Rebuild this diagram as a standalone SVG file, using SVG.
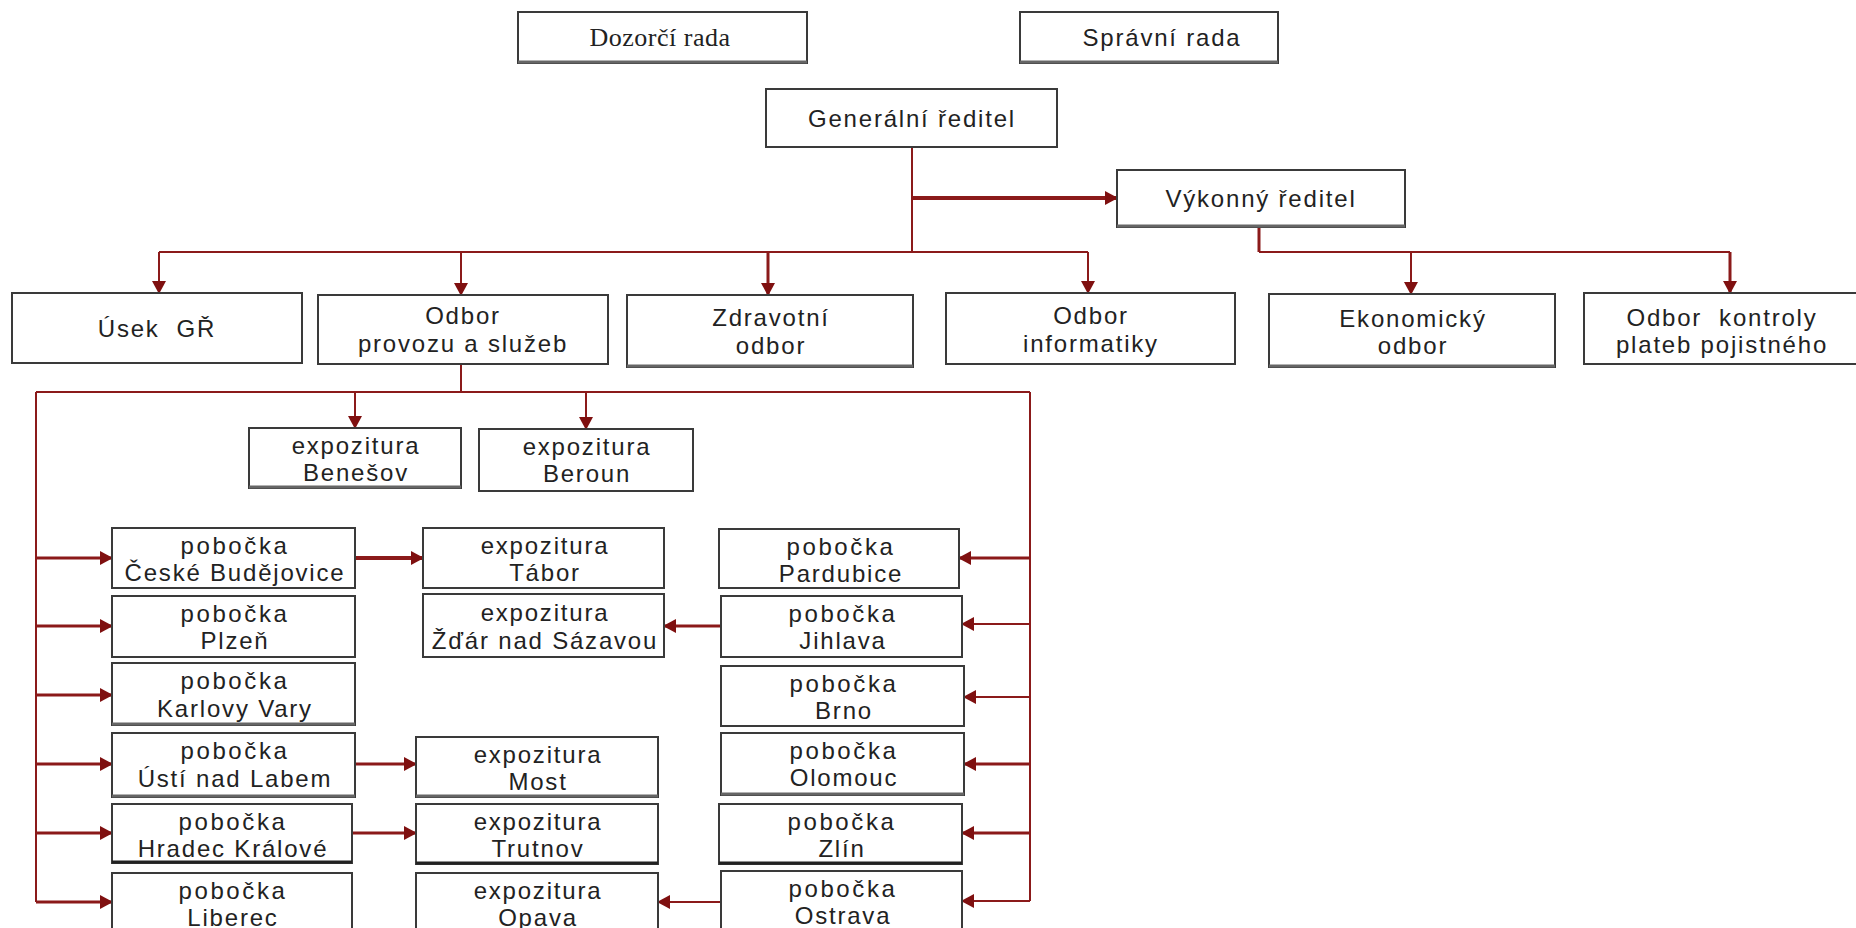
<svg xmlns="http://www.w3.org/2000/svg" width="1856" height="928" viewBox="0 0 1856 928">
<defs>
<marker id="ar" markerUnits="userSpaceOnUse" markerWidth="13" markerHeight="14" viewBox="0 0 13 14" refX="12" refY="7" orient="auto">
<path d="M0,0 L13,7 L0,14 z" fill="#7f1010"/>
</marker>
</defs>
<style>
rect.b{fill:#fff;stroke:#3a3a3a;stroke-width:2}
line.sh{stroke:#666;stroke-width:3}
text{font-family:"Liberation Sans",Arial,sans-serif;font-size:24px;fill:#222;text-anchor:middle;letter-spacing:1.8px}
text.p{letter-spacing:2.6px}
text.w{white-space:pre}
text.s{font-family:"Liberation Serif","Times New Roman",serif;font-size:26px;letter-spacing:0.5px}
#conn path{fill:none;stroke:#8b1a1a;stroke-width:2}
#conn path.a{marker-end:url(#ar)}
#conn path.t{stroke-width:4}
#conn path.m{stroke-width:3}
</style>
<rect width="1856" height="928" fill="#fff"/>
<g id="conn">
<path d="M912,147 V252"/>
<path class="a t" d="M912,198 H1117"/>
<path d="M159,252 H1088"/>
<path class="a" d="M159,252 V293"/>
<path class="a" d="M461,252 V295"/>
<path class="a m" d="M768,252 V295"/>
<path class="a" d="M1088,252 V293"/>
<path class="m" d="M1259,227 V252"/>
<path d="M1259,252 H1730"/>
<path class="a" d="M1411,252 V294"/>
<path class="a m" d="M1730,252 V293"/>
<path d="M461,364 V392"/>
<path d="M36,392 H1030"/>
<path class="a" d="M355,392 V428"/>
<path class="a" d="M586,392 V429"/>
<path d="M36,392 V902"/>
<path class="a m" d="M36,558 H112"/>
<path class="a m" d="M36,626 H112"/>
<path class="a m" d="M36,695 H112"/>
<path class="a m" d="M36,764 H112"/>
<path class="a m" d="M36,833 H112"/>
<path class="a m" d="M36,902 H112"/>
<path d="M1030,392 V901"/>
<path class="a m" d="M1030,558 H959"/>
<path class="a" d="M1030,624 H962"/>
<path class="a" d="M1030,697 H964"/>
<path class="a m" d="M1030,764 H964"/>
<path class="a m" d="M1030,833 H962"/>
<path class="a" d="M1030,901 H962"/>
<path class="a t" d="M355,558 H423"/>
<path class="a m" d="M721,626 H664"/>
<path class="a m" d="M355,764 H416"/>
<path class="a m" d="M352,833 H416"/>
<path class="a" d="M721,902 H658"/>
</g>
<g id="dozorci"><rect class="b" x="518" y="12" width="289" height="51"/><line class="sh" x1="518" y1="62" x2="807" y2="62"/><text class="s" x="660" y="46">Dozorčí rada</text></g>
<g id="spravni"><rect class="b" x="1020" y="12" width="258" height="51"/><line class="sh" x1="1020" y1="62" x2="1278" y2="62"/><text x="1162" y="46">Správní rada</text></g>
<g id="gen"><rect class="b" x="766" y="89" width="291" height="58"/><text x="912" y="127">Generální ředitel</text></g>
<g id="vyk"><rect class="b" x="1117" y="170" width="288" height="57"/><line class="sh" x1="1117" y1="226" x2="1405" y2="226"/><text x="1261" y="207">Výkonný ředitel</text></g>
<g id="usek"><rect class="b" x="12" y="293" width="290" height="70"/><text class="w" x="157" y="337" xml:space="preserve">Úsek  GŘ</text></g>
<g id="provoz"><rect class="b" x="318" y="295" width="290" height="69"/><text x="463" y="324">Odbor</text><text x="463" y="352">provozu a služeb</text></g>
<g id="zdrav"><rect class="b" x="627" y="295" width="286" height="72"/><line class="sh" x1="627" y1="366" x2="913" y2="366"/><text x="771" y="326">Zdravotní</text><text x="771" y="354">odbor</text></g>
<g id="inform"><rect class="b" x="946" y="293" width="289" height="71"/><text x="1091" y="324">Odbor</text><text x="1091" y="352">informatiky</text></g>
<g id="ekon"><rect class="b" x="1269" y="294" width="286" height="73"/><line class="sh" x1="1269" y1="366" x2="1555" y2="366"/><text x="1413" y="327">Ekonomický</text><text x="1413" y="354">odbor</text></g>
<g id="kontrola"><rect class="b" x="1584" y="293" width="274" height="71"/><text class="w" x="1722" y="326" xml:space="preserve">Odbor  kontroly</text><text x="1722" y="353">plateb pojistného</text></g>
<g id="benesov"><rect class="b" x="249" y="428" width="212" height="60"/><line class="sh" x1="249" y1="487" x2="461" y2="487"/><text x="356" y="454">expozitura</text><text x="356" y="481">Benešov</text></g>
<g id="beroun"><rect class="b" x="479" y="429" width="214" height="62"/><text x="587" y="455">expozitura</text><text x="587" y="482">Beroun</text></g>
<g id="cb"><rect class="b" x="112" y="528" width="243" height="60"/><text class="p" x="235" y="554">pobočka</text><text x="235" y="581">České Budějovice</text></g>
<g id="plzen"><rect class="b" x="112" y="596" width="243" height="61"/><text class="p" x="235" y="622">pobočka</text><text x="235" y="649">Plzeň</text></g>
<g id="kv"><rect class="b" x="112" y="663" width="243" height="62"/><line class="sh" x1="112" y1="724" x2="355" y2="724"/><text class="p" x="235" y="689">pobočka</text><text x="235" y="717">Karlovy Vary</text></g>
<g id="usti"><rect class="b" x="112" y="733" width="243" height="64"/><line class="sh" x1="112" y1="796" x2="355" y2="796"/><text class="p" x="235" y="759">pobočka</text><text x="235" y="787">Ústí nad Labem</text></g>
<g id="hradec"><rect class="b" x="112" y="804" width="240" height="59"/><line class="sh" x1="112" y1="862" x2="352" y2="862" style="stroke:#222"/><text class="p" x="233" y="830">pobočka</text><text x="233" y="857">Hradec Králové</text></g>
<g id="liberec"><rect class="b" x="112" y="873" width="240" height="62"/><text class="p" x="233" y="899">pobočka</text><text x="233" y="926">Liberec</text></g>
<g id="tabor"><rect class="b" x="423" y="528" width="241" height="60"/><text x="545" y="554">expozitura</text><text x="545" y="581">Tábor</text></g>
<g id="zdar"><rect class="b" x="423" y="594" width="241" height="63"/><text x="545" y="621">expozitura</text><text x="545" y="649">Žďár nad Sázavou</text></g>
<g id="most"><rect class="b" x="416" y="737" width="242" height="60"/><line class="sh" x1="416" y1="796" x2="658" y2="796"/><text x="538" y="763">expozitura</text><text x="538" y="790">Most</text></g>
<g id="trutnov"><rect class="b" x="416" y="804" width="242" height="60"/><line class="sh" x1="416" y1="863" x2="658" y2="863" style="stroke:#222"/><text x="538" y="830">expozitura</text><text x="538" y="857">Trutnov</text></g>
<g id="opava"><rect class="b" x="416" y="873" width="242" height="62"/><text x="538" y="899">expozitura</text><text x="538" y="926">Opava</text></g>
<g id="pardubice"><rect class="b" x="719" y="529" width="240" height="59"/><text class="p" x="841" y="555">pobočka</text><text x="841" y="582">Pardubice</text></g>
<g id="jihlava"><rect class="b" x="721" y="596" width="241" height="61"/><text class="p" x="843" y="622">pobočka</text><text x="843" y="649">Jihlava</text></g>
<g id="brno"><rect class="b" x="721" y="666" width="243" height="60"/><text class="p" x="844" y="692">pobočka</text><text x="844" y="719">Brno</text></g>
<g id="olomouc"><rect class="b" x="721" y="733" width="243" height="62"/><line class="sh" x1="721" y1="794" x2="964" y2="794"/><text class="p" x="844" y="759">pobočka</text><text x="844" y="786">Olomouc</text></g>
<g id="zlin"><rect class="b" x="719" y="804" width="243" height="60"/><line class="sh" x1="719" y1="863" x2="962" y2="863" style="stroke:#222"/><text class="p" x="842" y="830">pobočka</text><text x="842" y="857">Zlín</text></g>
<g id="ostrava"><rect class="b" x="721" y="871" width="241" height="64"/><text class="p" x="843" y="897">pobočka</text><text x="843" y="924">Ostrava</text></g>
</svg>
